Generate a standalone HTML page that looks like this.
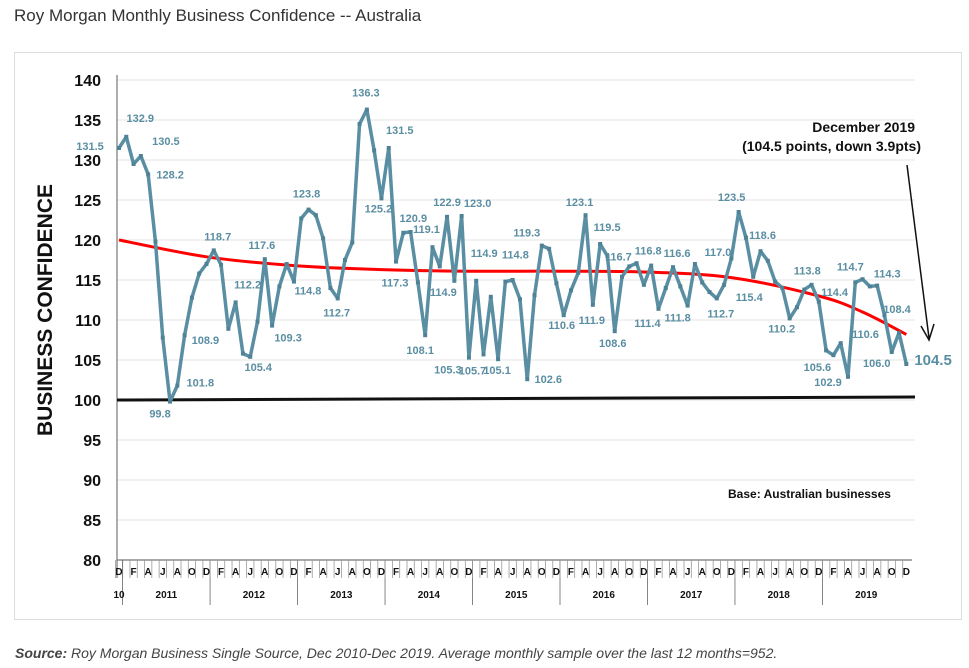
<!DOCTYPE html>
<html><head><meta charset="utf-8"><style>
body{margin:0;background:#fff;width:969px;height:668px;overflow:hidden;font-family:"Liberation Sans",sans-serif}
</style></head><body>
<div style="position:absolute;left:14px;top:6px;font-size:17px;color:#333">Roy Morgan Monthly Business Confidence -- Australia</div>
<div style="position:absolute;left:14px;top:52px;width:946px;height:566px;border:1px solid #ddd"></div>
<svg id="c" width="969" height="668" style="position:absolute;left:0;top:0"></svg>
<div style="position:absolute;left:15px;top:645px;font-size:14px;font-style:italic;color:#444"><b>Source:</b> Roy Morgan Business Single Source, Dec 2010-Dec 2019. Average monthly sample over the last 12 months=952.</div>
<script>
const values=[131.5,132.9,129.5,130.5,128.2,119.8,107.8,99.8,101.8,108.1,112.8,115.8,
117.0,118.7,116.9,108.9,112.2,105.8,105.4,109.8,117.6,109.3,114.2,117.0,
114.8,122.7,123.8,123.1,120.2,114.0,112.7,117.5,119.7,134.5,136.3,131.2,
125.2,131.5,117.3,120.9,121.0,114.7,108.1,119.1,116.7,122.9,114.9,123.0,
105.3,114.9,105.7,112.9,105.1,114.8,115.0,112.6,102.6,113.1,119.3,118.9,
114.6,110.6,113.7,115.9,123.1,111.9,119.5,118.0,108.6,115.4,116.7,117.1,
114.4,116.8,111.4,114.0,116.6,114.2,111.8,117.0,114.7,113.5,112.7,114.4,
117.7,123.5,120.3,115.4,118.6,117.4,114.8,114.0,110.2,111.6,113.8,114.4,
112.3,106.2,105.6,107.1,102.9,114.7,115.1,114.2,114.3,110.6,106.0,108.4,104.5];
const trendIdx=[0,12,24,36,48,60,72,84,96,102,108];
const trendVals=[120,117.9,116.8,116.3,116.1,116.1,116.0,115.3,113.0,111.0,108.2];
const yTicks=[80,85,90,95,100,105,110,115,120,125,130,135,140];
const monthLetters=["D","F","A","J","A","O"];
const years=["2011","2012","2013","2014","2015","2016","2017","2018","2019"];
const labelIdx=[0,1,3,4,7,8,13,15,16,18,20,21,24,26,30,34,36,37,38,39,42,43,45,46,47,48,49,50,52,53,56,58,61,64,65,66,68,70,73,74,76,78,79,82,85,87,88,92,94,95,98,100,101,104,105,106,107];
const labelOff=[[-29,-2],[14,-19],[25,-15],[22,0],[-10,12],[23,-3],[4,-14],[-23,11],[12,-18],[8,10],[-3,-14],[16,12],[14,9],[-2,-16],[-1,14],[-1,-17],[-3,10],[11,-18],[-1,21],[10,-15],[-5,15],[-6,-18],[0,-15],[-11,11],[16,-13],[-21,12],[8,-28],[-11,16],[-1,11],[10,-27],[21,0],[-15,-13],[-2,10],[-6,-13],[-1,15],[7,-17],[-2,12],[-11,-10],[-3,-15],[-11,14],[4,-14],[-10,12],[23,-12],[4,15],[-7,-15],[-4,20],[2,-16],[-8,10],[3,-19],[23,7],[-16,12],[-20,5],[-5,-16],[10,-12],[-19,19],[-15,11],[-2,-24]];
const svg=document.getElementById('c');const NS='http://www.w3.org/2000/svg';
const X=i=>119+i*7.29, Y=v=>400-(v-100)*8;
function mk(t,a,txt){const e=document.createElementNS(NS,t);for(const k in a)e.setAttribute(k,a[k]);if(txt!==undefined)e.textContent=txt;svg.appendChild(e);return e;}
yTicks.forEach(t=>{
 if(t>80){const g=mk('line',{x1:117,x2:915,y1:Y(t),y2:Y(t),stroke:'#e4e4e4','stroke-width':1});
 
 }
 const l=mk('text',{x:101,y:Y(t)+6,'text-anchor':'end','font-size':16,'font-weight':'bold',fill:'#111'},t);
 
 
});
mk('line',{x1:117,x2:117,y1:75,y2:578,stroke:'#777','stroke-width':1.2});
mk('line',{x1:117,x2:912,y1:560,y2:560,stroke:'#777','stroke-width':1.2});
const base=mk('line',{x1:117,x2:915,y1:Y(100),y2:Y(100)-3,stroke:'#111','stroke-width':3});


for(let i=0;i<=108;i++){
 const isDec=i%12===0;
 mk('line',{x1:X(i)-3.6,x2:X(i)-3.6,y1:560,y2:578,stroke:'#999','stroke-width':0.8});
 if(i%2===0){const t=mk('text',{x:X(i),y:575,'text-anchor':'middle','font-size':10,'font-weight':'bold',fill:'#111'},monthLetters[(i/2)%6]);
 
 }
 if(isDec&&i>0&&i<108)mk('line',{x1:X(i)+3.6,x2:X(i)+3.6,y1:560,y2:605,stroke:'#666','stroke-width':0.8});
}
mk('line',{x1:X(0)+3.6,x2:X(0)+3.6,y1:560,y2:605,stroke:'#666','stroke-width':0.8});
mk('text',{x:119,y:598,'text-anchor':'middle','font-size':10,'font-weight':'bold',fill:'#111'},'10');
years.forEach((y,k)=>{const t=mk('text',{x:X(k*12+6.5),y:598,'text-anchor':'middle','font-size':10,'font-weight':'bold',fill:'#111'},y);
 
 });
// trend (Catmull-Rom)
const tp=trendIdx.map((i,k)=>[X(i),Y(trendVals[k])]);
let d='M'+tp[0][0]+','+tp[0][1];
for(let k=0;k<tp.length-1;k++){const p0=tp[Math.max(0,k-1)],p1=tp[k],p2=tp[k+1],p3=tp[Math.min(tp.length-1,k+2)];
 d+=` C${p1[0]+(p2[0]-p0[0])/6},${p1[1]+(p2[1]-p0[1])/6} ${p2[0]-(p3[0]-p1[0])/6},${p2[1]-(p3[1]-p1[1])/6} ${p2[0]},${p2[1]}`;}
const tr=mk('path',{d:d,fill:'none',stroke:'#f00','stroke-width':3});


const ln=mk('polyline',{points:values.map((v,i)=>X(i)+','+Y(v)).join(' '),fill:'none',stroke:'#5a8ea2','stroke-width':3.5,'stroke-linejoin':'round'});


values.forEach((v,i)=>{const c=mk('rect',{x:X(i)-2,y:Y(v)-2,width:4,height:4,fill:'#4f8296'});
 
 });
labelIdx.forEach((i,k)=>{const t=mk('text',{x:X(i)+labelOff[k][0],y:Y(values[i])+labelOff[k][1]+4,'text-anchor':'middle','font-size':11,'font-weight':'bold',fill:'#5a8ea2'},values[i].toFixed(1));
 
 });
const last=mk('text',{x:X(108)+8,y:Y(values[108])+1,'font-size':15,'font-weight':'bold',fill:'#5a8ea2'},values[108].toFixed(1));


const yt=mk('text',{x:0,y:0,transform:'translate(52,310) rotate(-90)','text-anchor':'middle','font-size':21,'font-weight':'bold',fill:'#111'},'BUSINESS CONFIDENCE');


const a1=mk('text',{x:915,y:132,'text-anchor':'end','font-size':14,'font-weight':'bold',fill:'#111'},'December 2019');


const a2=mk('text',{x:921,y:151,'text-anchor':'end','font-size':14,'font-weight':'bold',fill:'#111'},'(104.5 points, down 3.9pts)');


mk('line',{x1:907,y1:165,x2:929,y2:338,stroke:'#111','stroke-width':1.5});
mk('polyline',{points:'921,326 929,340 934,324',fill:'none',stroke:'#111','stroke-width':1.5});
const b=mk('text',{x:728,y:498,'font-size':12,'font-weight':'bold',fill:'#111'},'Base: Australian businesses');


</script>
</body></html>
